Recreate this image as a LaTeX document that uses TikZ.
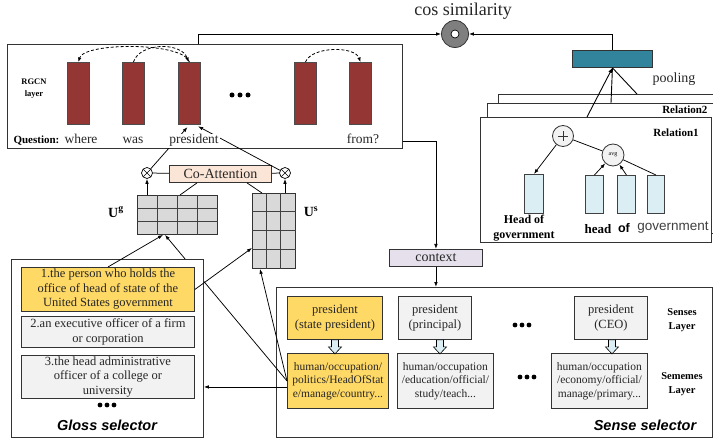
\documentclass[tikz,border=0pt]{standalone}
\usepackage{fontspec}
\setmainfont{Liberation Serif}
\newfontfamily\arialf{Liberation Sans}
\usetikzlibrary{arrows.meta,calc}
\definecolor{barred}{HTML}{943634}
\definecolor{boxyellow}{HTML}{FFD966}
\definecolor{boxgray}{HTML}{F2F2F2}
\definecolor{gridgray}{HTML}{D9D9D9}
\definecolor{peach}{HTML}{FBE5D6}
\definecolor{lavender}{HTML}{E5E0EC}
\definecolor{teal}{HTML}{31849B}
\definecolor{lightblue}{HTML}{DBEEF4}
\definecolor{cosgray}{HTML}{7F7F7F}
\begin{document}
\begin{tikzpicture}[x=1pt,y=-1pt,
  panel/.style={draw=black!80, line width=0.9pt, anchor=north west, inner sep=0pt},
  tbox/.style={panel, align=center, text=black!85, font=\fontsize{12.5}{14.5}\selectfont},
  yellowbox/.style={tbox, fill=boxyellow},
  graybox/.style={tbox, fill=boxgray},
  semebox/.style={panel, align=center, text=black!85, font=\fontsize{11.5}{13.5}\selectfont},
  rbar/.style={panel, fill=barred, draw=black!70, minimum width=22pt, minimum height=62pt},
  bbar/.style={panel, fill=lightblue, draw=black!75, minimum height=38pt},
  grid box/.style={panel, fill=gridgray},
  gridline/.style={draw=black!75, line width=0.9pt},
  arr/.style={-{Latex[length=5pt,width=3.6pt]}, line width=0.75pt},
  ln/.style={line width=0.75pt},
  darc/.style={line width=0.8pt, dash pattern=on 3pt off 2pt},
  qword/.style={anchor=base, font=\fontsize{13.5}{15}\selectfont, text=black!85},
  otimesnode/.style={circle, draw, line width=0.7pt, fill=white, minimum size=11pt, inner sep=0pt,
    path picture={\draw[line width=0.6pt] (path picture bounding box.north west) -- (path picture bounding box.south east)
      (path picture bounding box.north east) -- (path picture bounding box.south west);}},
  selector/.style={font=\arialf\bfseries\itshape\fontsize{14.5}{16}\selectfont},
  layerlbl/.style={align=center, font=\bfseries\fontsize{10.5}{13.5}\selectfont},
  hollowarrow/.pic={\draw[fill=lightblue, line width=0.6pt] (-3.5,0) -- (-3.5,7) -- (-6.5,7) -- (0,14) -- (6.5,7) -- (3.5,7) -- (3.5,0) -- cycle;}
]
\useasboundingbox (0,0) rectangle (713,441);

% ---------- outer selector box (behind) ----------
\node[panel, minimum width=436pt, minimum height=150pt] (sbox) at (276,287) {};
\node[semebox, fill=boxyellow, minimum width=101pt, minimum height=55pt] (sm1) at (287,353) {human/occupation/\\politics/HeadOfStat\\e/manage/country...};

% ---------- grids ----------
\node[grid box, minimum width=80pt, minimum height=39pt] (ug) at (137,195) {};
\foreach \i in {1,2,3} \draw[gridline] ($(ug.north west)+(20*\i,0)$) -- ($(ug.south west)+(20*\i,0)$);
\foreach \j in {1,2} \draw[gridline] ($(ug.north west)+(0,13*\j)$) -- ($(ug.north east)+(0,13*\j)$);
\node[grid box, minimum width=43pt, minimum height=75pt] (us) at (252,193) {};
\foreach \i in {1,2} \draw[gridline] ($(us.north west)+(14.33*\i,0)$) -- ($(us.south west)+(14.33*\i,0)$);
\foreach \j in {1,2,3} \draw[gridline] ($(us.north west)+(0,18.75*\j)$) -- ($(us.north east)+(0,18.75*\j)$);
\node[font=\bfseries\fontsize{14}{16}\selectfont] (uglbl) at (116,212) {U$^{\mathbf{g}}$};
\node[font=\bfseries\fontsize{14}{16}\selectfont] (uslbl) at (311,212) {U$^{\mathbf{s}}$};

% line hidden by gloss box
\draw[arr] (sm1.west) -- ([xshift=28pt]ug.south west);

% ---------- gloss selector ----------
\node[panel, fill=white, minimum width=192pt, minimum height=178pt] (gbox) at (11,259) {};
\node[yellowbox, minimum width=173pt, minimum height=44pt] (g1) at (21,267) {1.the person who holds the\\office of head of state of the\\United States government};
\node[graybox, minimum width=173pt, minimum height=31pt] (g2) at (21,316) {2.an executive officer of a firm\\or corporation};
\node[graybox, minimum width=173pt, minimum height=43pt] (g3) at (21,355) {3.the head administrative\\officer of a college or\\university};
\foreach \x in {100,107,114} \fill (\x,405) circle (2.4);
\node[selector] (glosslbl) at (107,425) {Gloss selector};

% ---------- question box ----------
\node[panel, minimum width=395pt, minimum height=104pt] (qbox) at (7,44) {};
\node[rbar] (b1) at (67,62) {};
\node[rbar] (b2) at (122,62) {};
\node[rbar] (b3) at (178,62) {};
\node[rbar] (b4) at (294,62) {};
\node[rbar] (b5) at (349,62) {};
\foreach \x in {232,240,248} \fill (\x,95) circle (2.5);
\node[align=center, font=\bfseries\fontsize{8.5}{12}\selectfont] (rgcn) at (34,89) {RGCN\\layer};
\draw[darc, -{Latex[length=4.5pt,width=3.5pt]}] (b3.north) .. controls (184,42) and (84,42) .. (b1.north);
\draw[darc, -{Latex[length=4.5pt,width=3.5pt]}] (b2.north) .. controls (140,42) and (182,42) .. ([xshift=-1pt]b3.north);
\draw[darc, -{Latex[length=4.5pt,width=3.5pt]}] (b4.north) .. controls (312,46) and (355,46) .. (b5.north);

% co-attention
\node[otimesnode] (ol) at (147,173) {};
\node[otimesnode] (or) at (285,173) {};
\node[panel, fill=peach, minimum width=102pt, minimum height=17pt, font=\fontsize{14}{16}\selectfont, text=black!85] (coatt) at (169,165) {Co-Attention};
\draw[ln] (ol) -- (coatt);
\draw[ln] (coatt) -- (or);
\draw[arr] (ol |- ug.north) -- (ol.south);
\draw[arr] (or |- us.north) -- (or.south);
\draw[ln] ([xshift=43pt]ug.north west) -- ([xshift=28pt]coatt.south west);
\draw[ln] ([xshift=10pt]us.north west) -- ([xshift=78pt]coatt.south west);
\draw[arr, shorten >=3pt] (ol) -- (b3.south);
\draw[arr, shorten >=3pt] (or) -- ([xshift=6pt]b3.south);

\node[anchor=base west, font=\bfseries\fontsize{11}{13}\selectfont] (qlbl) at (10,144) {Question:};
\node[qword] (w1) at (81,144) {where};
\node[qword] (w2) at (133,144) {was};
\node[qword, fill=white, inner sep=1pt] (w3) at (194,144) {president};
\node[qword] (w4) at (363,144) {from?};

% ---------- gloss arrows ----------
\draw[arr] (g1.north) -- ([xshift=26pt]ug.south west);
\draw[arr] (g1.east) -- ([yshift=-17pt]us.west);
\draw[arr] (sm1.west) -- ([xshift=8pt]us.south west);
\coordinate (smg) at ($(sm1.west)+(0,6)$);
\draw[arr] (smg) -- (smg -| gbox.east);

% ---------- sense selector ----------
\node[yellowbox, minimum width=95pt, minimum height=43pt] (sn1) at (287,296) {president\\(state president)};
\node[graybox, minimum width=73pt, minimum height=43pt] (sn2) at (398,296) {president\\(principal)};
\node[graybox, minimum width=73pt, minimum height=43pt] (sn3) at (574,296) {president\\(CEO)};
\node[semebox, fill=boxgray, minimum width=96pt, minimum height=55pt] (sm2) at (397,353) {human/occupation\\/education/official/\\study/teach...};
\node[semebox, fill=boxgray, minimum width=96pt, minimum height=55pt] (sm3) at (551,353) {human/occupation\\/economy/official/\\manage/primary...};
\pic at (sn1.south) {hollowarrow};
\pic at ([xshift=5pt]sn2.south) {hollowarrow};
\pic at ([xshift=1pt]sn3.south) {hollowarrow};
\foreach \x in {515,522,529} \fill (\x,325) circle (2.4);
\foreach \x in {520,527,534} \fill (\x,377) circle (2.4);
\node[layerlbl] (senseslbl) at (682,320) {Senses\\Layer};
\node[layerlbl] (semeslbl) at (682,384) {Sememes\\Layer};
\node[selector] (senselbl) at (645,425) {Sense selector};

% ---------- context ----------
\node[panel, fill=lavender, minimum width=93pt, minimum height=17pt, font=\fontsize{14}{16}\selectfont, text=black!85] (ctx) at (389,249) {context};
\draw[arr] ([yshift=8pt]qbox.south east) -| (ctx.north);
\draw[arr] (ctx.south) -- (ctx.south |- sbox.north);

% ---------- right part ----------
\node[circle, draw=black!80, fill=cosgray, minimum size=27pt, inner sep=0pt, line width=0.8pt] (cos) at (455,34) {};
\node[circle, draw=black, fill=white, minimum size=8pt, inner sep=0pt, line width=0.7pt] (cosin) at (455,34) {};
\node[font=\fontsize{18}{20}\selectfont, text=black!85] (costxt) at (463,11) {cos similarity};
\node[panel, fill=teal, minimum width=80pt, minimum height=17pt] (pool) at (572,50) {};
\node[font=\fontsize{14}{16}\selectfont, text=black!85] (poollbl) at (674,79) {pooling};
\draw[arr] ([xshift=191pt]qbox.north west) |- (cos.west);
\draw[arr] (pool.north) |- (cos.east);

\node[panel, fill=white, minimum width=230pt, minimum height=80pt] (rel3) at (498,94) {};
\node[panel, fill=white, minimum width=240pt, minimum height=130pt] (rel2) at (487,103) {};
\node[anchor=east, font=\bfseries\fontsize{11}{13}\selectfont] (rel2lbl) at (711,110) {Relation2};
\node[panel, fill=white, minimum width=231pt, minimum height=125pt] (rel1) at (480,117) {};
\node[font=\bfseries\fontsize{11}{13}\selectfont] (rel1lbl) at (676,133) {Relation1};

\node[circle, draw=black!80, fill=boxgray, minimum size=21pt, inner sep=0pt, line width=0.8pt,
  path picture={\draw[line width=0.9pt] ([xshift=-5pt]path picture bounding box.center) -- ([xshift=5pt]path picture bounding box.center);
  \draw[line width=0.9pt] ([yshift=-5pt]path picture bounding box.center) -- ([yshift=5pt]path picture bounding box.center);}] (plus) at (563,136) {};
\node[circle, draw=black!80, fill=boxgray, minimum size=22pt, inner sep=0pt, line width=0.8pt, font=\fontsize{6}{7}\selectfont] (avg) at (613,155) {avg};
\node[bbar, minimum width=19pt, minimum height=39pt] (hb1) at (524,174) {};
\node[bbar, minimum width=18pt] (hb2) at (585,175) {};
\node[bbar, minimum width=18pt] (hb3) at (617,175) {};
\node[bbar, minimum width=17pt] (hb4) at (647,175) {};
\draw[arr] (plus) -- (hb1.north);
\draw[ln] (plus) -- (avg);
\draw[arr] (hb2.north) -- (avg);
\draw[arr] (hb3.north) -- (avg);
\draw[ln] (hb4.north) -- (avg);
\node[align=center, font=\bfseries\fontsize{12}{15}\selectfont] (hglbl) at (524,228) {Head of\\government};
\node[font=\bfseries\fontsize{13}{15}\selectfont] (headlbl) at (598,229) {head};
\node[font=\arialf\bfseries\fontsize{12.5}{15}\selectfont] (oflbl) at (624,228) {of};
\node[font=\arialf\fontsize{13.5}{15}\selectfont, text=black!75] (govlbl) at (673,228) {government};

% pooling inputs
\coordinate (r1top) at (587,117);
\coordinate (r2top) at (611,103);
\coordinate (r3top) at (637,94);
\draw[line width=0.9pt, draw=black] (r2top) -- (pool.south);
\draw[line width=0.9pt, draw=black] (r3top) -- (pool.south);
\draw[line width=0.9pt, draw=black, -{Latex[length=5pt,width=4pt]}] (r1top) -- (pool.south);
\end{tikzpicture}
\end{document}
